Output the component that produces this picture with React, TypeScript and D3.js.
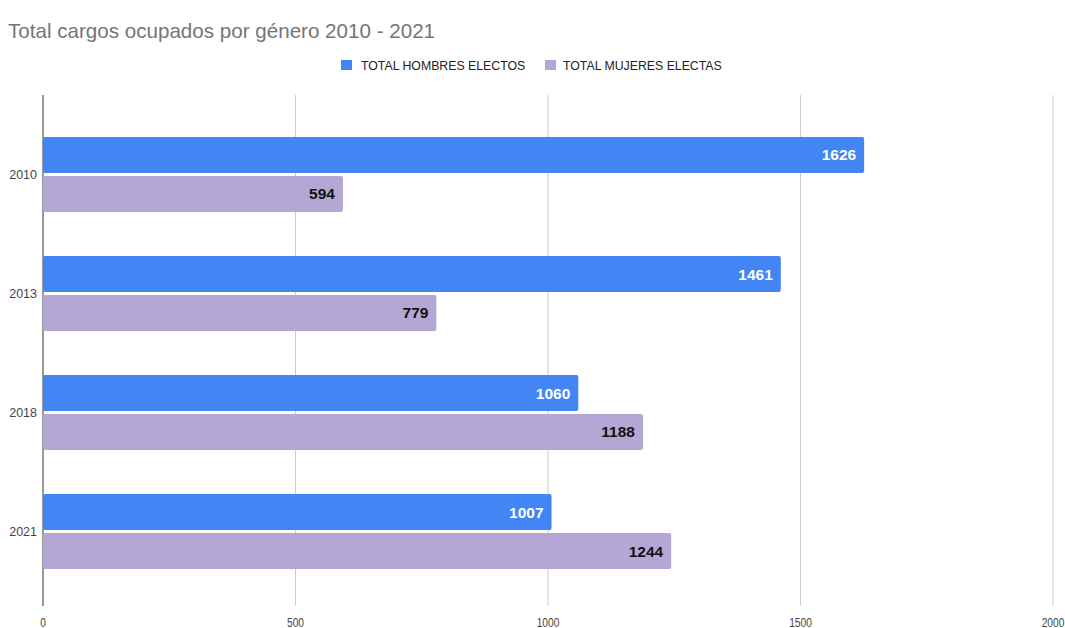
import React from "react";
import * as d3 from "d3";

const years = ["2010", "2013", "2018", "2021"];
const hombres = [1626, 1461, 1060, 1007];
const mujeres = [594, 779, 1188, 1244];
const xTicks = [0, 500, 1000, 1500, 2000];
const seriesNames = ["TOTAL HOMBRES ELECTOS", "TOTAL MUJERES ELECTAS"];
const colors = ["#4285F4", "#B4A7D6"];
const labelColors = ["#ffffff", "#111111"];

const W = 1065;
const H = 628;
const plotTop = 95;
const plotBottom = 606;

export default function App() {
  const x = d3.scaleLinear().domain([0, 2000]).range([43, 1053]);
  const y = d3.scaleBand<string>().domain(years).range([137, 569]).paddingInner(0.37).paddingOuter(0);
  const sub = d3.scaleBand<number>().domain([0, 1]).range([0, y.bandwidth()]).paddingInner(0.077);
  const series = [hombres, mujeres];
  const font = "Arial, 'Liberation Sans', sans-serif";

  return (
    <svg width={W} height={H} style={{ position: "absolute", left: 0, top: 0, background: "#fff" }} fontFamily={font}>
      <rect x={0} y={0} width={W} height={H} fill="#fff" />
      <text x={8} y={38} fontSize={20.6} fill="#757575">Total cargos ocupados por género 2010 - 2021</text>
      {/* legend */}
      <g>
        <rect x={341} y={60} width={11} height={10} fill={colors[0]} />
        <text x={361} y={70} fontSize={12.3} fill="#222">{seriesNames[0]}</text>
        <rect x={545} y={60} width={11} height={10} fill={colors[1]} />
        <text x={563} y={70} fontSize={12.3} fill="#222">{seriesNames[1]}</text>
      </g>
      {/* gridlines */}
      {xTicks.map((t) => (
        <line key={t} x1={x(t)} x2={x(t)} y1={plotTop} y2={plotBottom} stroke={t === 0 ? "#333" : "#cccccc"} strokeWidth={1} />
      ))}
      {xTicks.map((t) => (
        <text key={"l" + t} x={x(t)} y={627} fontSize={12} fill="#444" textAnchor="middle" transform={`translate(${x(t)},0) scale(0.85,1) translate(${-x(t)},0)`}>{t}</text>
      ))}
      {/* bars */}
      {years.map((yr, i) => (
        <g key={yr}>
          {series.map((s, k) => {
            const by = (y(yr) as number) + (sub(k) as number);
            const bh = sub.bandwidth();
            return (
              <g key={k}>
                <rect x={x(0)} y={by} width={x(s[i]) - x(0)} height={bh} fill={colors[k]} rx={2} />
                <text x={x(s[i]) - 8} y={by + bh / 2 + 5.5} fontSize={15.5} fontWeight="bold" fill={labelColors[k]} textAnchor="end">{s[i]}</text>
              </g>
            );
          })}
          <text x={37} y={(y(yr) as number) + y.bandwidth() / 2 + 4.5} fontSize={12.5} fill="#444" textAnchor="end">{yr}</text>
        </g>
      ))}
    </svg>
  );
}
